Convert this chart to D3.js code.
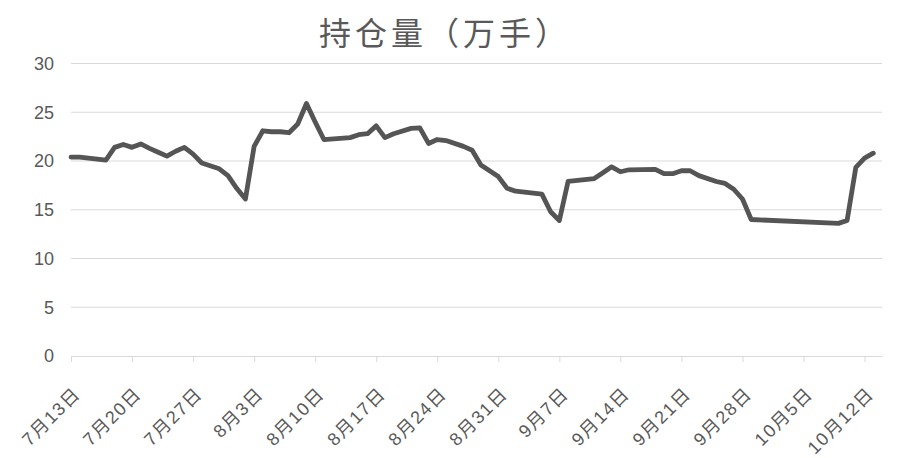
<!DOCTYPE html>
<html>
<head>
<meta charset="utf-8">
<script src="https://cdn.jsdelivr.net/npm/d3@7"></script>
<style>
  body { margin: 0; background: #fff; }
  svg { display: block; }
</style>
</head>
<body>
<script>
// chart title
var title = "持仓量（万手）";

// dates of the points (year taken as 2020) and open interest, in 万手
var dates = ["07-13","07-14","07-17","07-18","07-19","07-20","07-21","07-22","07-23","07-24",
             "07-25","07-26","07-27","07-28","07-30","07-31","08-01","08-02","08-03","08-04",
             "08-05","08-06","08-07","08-08","08-09","08-10","08-11","08-14","08-15","08-16",
             "08-17","08-18","08-19","08-21","08-22","08-23","08-24","08-25","08-27","08-28",
             "08-29","08-30","08-31","09-01","09-02","09-04","09-05","09-06","09-07","09-08",
             "09-11","09-12","09-13","09-14","09-15","09-18","09-19","09-20","09-21","09-22",
             "09-23","09-25","09-26","09-27","09-28","09-29","10-09","10-10","10-11","10-12",
             "10-13"];
var values = [20.4,20.4,20.1,21.4,21.7,21.4,21.75,21.3,20.9,20.5,
              21.0,21.4,20.7,19.8,19.2,18.5,17.2,16.1,21.5,23.1,
              23.0,23.0,22.9,23.8,25.9,24.0,22.2,22.4,22.7,22.8,
              23.6,22.4,22.8,23.35,23.4,21.8,22.2,22.1,21.5,21.1,
              19.6,19.0,18.4,17.2,16.9,16.7,16.6,14.8,13.9,17.9,
              18.2,18.8,19.4,18.9,19.1,19.15,18.7,18.7,19.0,19.0,
              18.5,17.9,17.7,17.1,16.1,14.0,13.6,13.9,19.35,20.3,
              20.8];

// axis ticks
var yTicks = [0, 5, 10, 15, 20, 25, 30];
var xTicks = ["07-13","07-20","07-27","08-03","08-10","08-17","08-24","08-31",
              "09-07","09-14","09-21","09-28","10-05","10-12"];
var xStart = "07-13", xEnd = "10-14";

var parse = d3.timeParse("%Y-%m-%d");
function toDate(s) { return parse("2020-" + s); }

var data = dates.map(function(d, i) { return {date: toDate(d), value: values[i]}; });

var svg = d3.select("body").append("svg")
    .attr("width", 900)
    .attr("height", 458);

var x = d3.scaleTime()
    .domain([toDate(xStart), toDate(xEnd)])
    .range([71, 882]);

var y = d3.scaleLinear()
    .domain([0, 30])
    .range([356, 63.5]);

var font = "'Liberation Sans', 'Noto Sans CJK SC', sans-serif";

// title
svg.append("text")
    .text(title)
    .attr("x", 445)
    .attr("y", 45)
    .attr("text-anchor", "middle")
    .attr("font-family", "'Noto Sans CJK SC', sans-serif")
    .attr("font-size", 32)
    .attr("letter-spacing", 4)
    .attr("fill", "#595959");

// horizontal gridlines
svg.append("g").selectAll("line").data(yTicks.filter(function(d){ return d > 0; })).enter()
    .append("line")
    .attr("x1", 71).attr("x2", 882)
    .attr("y1", function(d){ return y(d); })
    .attr("y2", function(d){ return y(d); })
    .attr("stroke", "#d9d9d9")
    .attr("stroke-width", 1);

// y axis labels
var yAxis = svg.append("g")
    .attr("transform", "translate(71,0)")
    .call(d3.axisLeft(y).tickValues(yTicks).tickSize(0).tickPadding(17));
yAxis.select(".domain").remove();
yAxis.selectAll("text")
    .attr("font-family", font)
    .attr("font-size", 18)
    .attr("fill", "#595959");

// x axis: baseline, small ticks, rotated date labels
var xAxis = svg.append("g")
    .attr("transform", "translate(0,356)")
    .call(d3.axisBottom(x)
        .tickValues(xTicks.map(toDate))
        .tickSize(6)
        .tickSizeOuter(0)
        .tickFormat(function(d){ return (d.getMonth() + 1) + "月" + d.getDate() + "日"; }));
xAxis.select(".domain").attr("stroke", "#d9d9d9");
xAxis.selectAll(".tick line").attr("stroke", "#d9d9d9");
xAxis.selectAll("text")
    .attr("font-family", font)
    .attr("font-size", 18)
    .attr("letter-spacing", 1.5)
    .attr("fill", "#595959")
    .attr("text-anchor", "end")
    .attr("dy", 0)
    .attr("y", 0)
    .attr("transform", "translate(10,39) rotate(-45)");

// the line
var line = d3.line()
    .x(function(d){ return x(d.date); })
    .y(function(d){ return y(d.value); });

svg.append("path")
    .datum(data)
    .attr("d", line)
    .attr("fill", "none")
    .attr("stroke", "#555555")
    .attr("stroke-width", 4.8)
    .attr("stroke-linejoin", "round")
    .attr("stroke-linecap", "round");
</script>
</body>
</html>
